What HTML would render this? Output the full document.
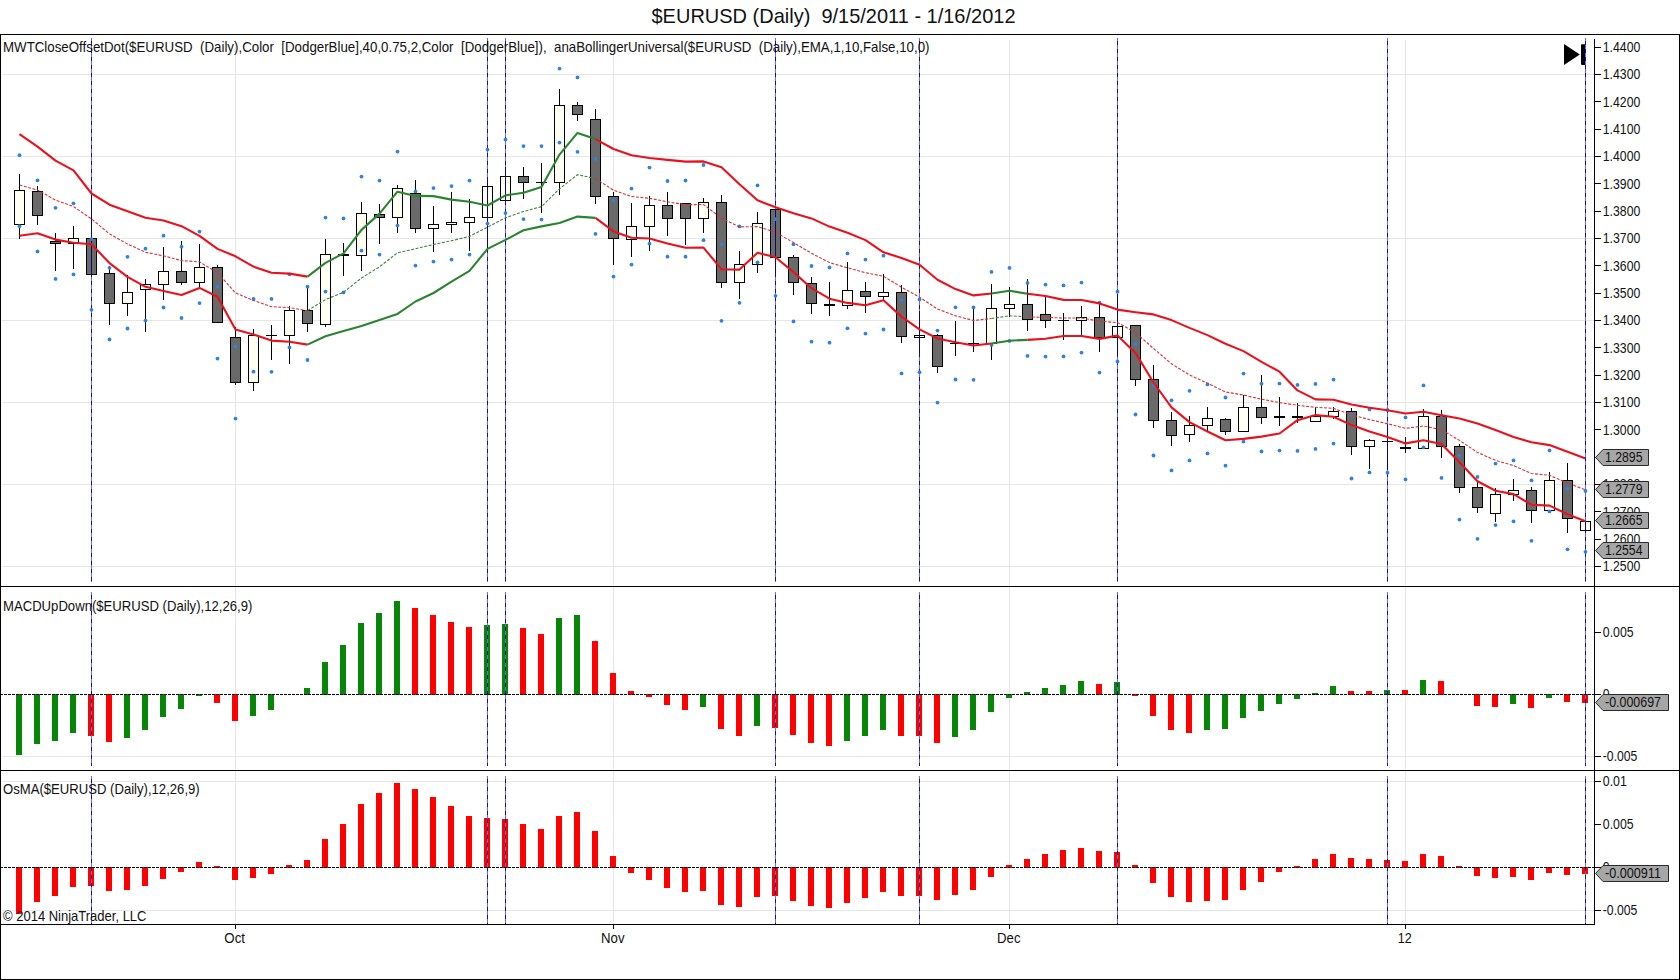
<!DOCTYPE html>
<html><head><meta charset="utf-8"><title>$EURUSD (Daily)</title>
<style>html,body{margin:0;padding:0;background:#fff}body{width:1680px;height:980px;overflow:hidden;position:relative;font-family:"Liberation Sans",sans-serif}svg{position:absolute;left:0;top:0}text{font-family:"Liberation Sans",sans-serif;fill:#111;white-space:pre}</style></head><body>
<svg width="1680" height="980" viewBox="0 0 1680 980">
<rect x="0" y="0" width="1680" height="980" fill="#fff"/>
<text x="651.5" y="23.3" font-size="20.4" textLength="364" lengthAdjust="spacingAndGlyphs" xml:space="preserve">$EURUSD (Daily)  9/15/2011 - 1/16/2012</text>
<g shape-rendering="crispEdges" fill="#e6e6e6">
<rect x="2" y="74" width="1592" height="1"/>
<rect x="2" y="156" width="1592" height="1"/>
<rect x="2" y="238" width="1592" height="1"/>
<rect x="2" y="320" width="1592" height="1"/>
<rect x="2" y="402" width="1592" height="1"/>
<rect x="2" y="484" width="1592" height="1"/>
<rect x="2" y="566" width="1592" height="1"/>
<rect x="2" y="756" width="1592" height="1"/>
<rect x="2" y="781" width="1592" height="1"/>
<rect x="2" y="910" width="1592" height="1"/>
<rect x="235" y="40" width="1" height="884"/>
<rect x="613" y="40" width="1" height="884"/>
<rect x="1009" y="40" width="1" height="884"/>
<rect x="1405" y="40" width="1" height="884"/>
</g>
<g shape-rendering="crispEdges">
<rect x="19" y="174" width="1" height="65" fill="#000"/>
<rect x="14" y="190" width="11" height="35" fill="#000"/>
<rect x="15" y="191" width="9" height="33" fill="#fffff4"/>
<rect x="37" y="186" width="1" height="39" fill="#000"/>
<rect x="32" y="191" width="11" height="25" fill="#000"/>
<rect x="33" y="192" width="9" height="23" fill="#6a6a6a"/>
<rect x="55" y="233" width="1" height="38" fill="#000"/>
<rect x="50" y="241" width="11" height="3" fill="#000"/>
<rect x="51" y="242" width="9" height="1" fill="#6a6a6a"/>
<rect x="73" y="226" width="1" height="43" fill="#000"/>
<rect x="68" y="238" width="11" height="6" fill="#000"/>
<rect x="69" y="239" width="9" height="4" fill="#fffff4"/>
<rect x="91" y="194" width="1" height="81" fill="#000"/>
<rect x="86" y="238" width="11" height="37" fill="#000"/>
<rect x="87" y="239" width="9" height="35" fill="#6a6a6a"/>
<rect x="109" y="266" width="1" height="59" fill="#000"/>
<rect x="104" y="273" width="11" height="31" fill="#000"/>
<rect x="105" y="274" width="9" height="29" fill="#6a6a6a"/>
<rect x="127" y="275" width="1" height="41" fill="#000"/>
<rect x="122" y="292" width="11" height="12" fill="#000"/>
<rect x="123" y="293" width="9" height="10" fill="#fffff4"/>
<rect x="145" y="279" width="1" height="53" fill="#000"/>
<rect x="140" y="284" width="11" height="6" fill="#000"/>
<rect x="141" y="285" width="9" height="4" fill="#fffff4"/>
<rect x="163" y="247" width="1" height="53" fill="#000"/>
<rect x="158" y="271" width="11" height="14" fill="#000"/>
<rect x="159" y="272" width="9" height="12" fill="#fffff4"/>
<rect x="181" y="241" width="1" height="44" fill="#000"/>
<rect x="176" y="271" width="11" height="12" fill="#000"/>
<rect x="177" y="272" width="9" height="10" fill="#6a6a6a"/>
<rect x="199" y="244" width="1" height="45" fill="#000"/>
<rect x="194" y="267" width="11" height="16" fill="#000"/>
<rect x="195" y="268" width="9" height="14" fill="#fffff4"/>
<rect x="217" y="265" width="1" height="58" fill="#000"/>
<rect x="212" y="267" width="11" height="56" fill="#000"/>
<rect x="213" y="268" width="9" height="54" fill="#6a6a6a"/>
<rect x="235" y="327" width="1" height="58" fill="#000"/>
<rect x="230" y="337" width="11" height="46" fill="#000"/>
<rect x="231" y="338" width="9" height="44" fill="#6a6a6a"/>
<rect x="253" y="329" width="1" height="62" fill="#000"/>
<rect x="248" y="335" width="11" height="48" fill="#000"/>
<rect x="249" y="336" width="9" height="46" fill="#fffff4"/>
<rect x="271" y="325" width="1" height="35" fill="#000"/>
<rect x="266" y="335" width="11" height="1" fill="#000"/>
<rect x="289" y="306" width="1" height="58" fill="#000"/>
<rect x="284" y="310" width="11" height="26" fill="#000"/>
<rect x="285" y="311" width="9" height="24" fill="#fffff4"/>
<rect x="307" y="288" width="1" height="44" fill="#000"/>
<rect x="302" y="310" width="11" height="14" fill="#000"/>
<rect x="303" y="311" width="9" height="12" fill="#6a6a6a"/>
<rect x="325" y="239" width="1" height="88" fill="#000"/>
<rect x="320" y="254" width="11" height="71" fill="#000"/>
<rect x="321" y="255" width="9" height="69" fill="#fffff4"/>
<rect x="343" y="243" width="1" height="33" fill="#000"/>
<rect x="338" y="254" width="11" height="2" fill="#000"/>
<rect x="361" y="202" width="1" height="69" fill="#000"/>
<rect x="356" y="213" width="11" height="43" fill="#000"/>
<rect x="357" y="214" width="9" height="41" fill="#fffff4"/>
<rect x="379" y="204" width="1" height="40" fill="#000"/>
<rect x="374" y="214" width="11" height="4" fill="#000"/>
<rect x="375" y="215" width="9" height="2" fill="#6a6a6a"/>
<rect x="397" y="185" width="1" height="48" fill="#000"/>
<rect x="392" y="188" width="11" height="30" fill="#000"/>
<rect x="393" y="189" width="9" height="28" fill="#fffff4"/>
<rect x="415" y="180" width="1" height="53" fill="#000"/>
<rect x="410" y="193" width="11" height="36" fill="#000"/>
<rect x="411" y="194" width="9" height="34" fill="#6a6a6a"/>
<rect x="433" y="206" width="1" height="46" fill="#000"/>
<rect x="428" y="224" width="11" height="5" fill="#000"/>
<rect x="429" y="225" width="9" height="3" fill="#fffff4"/>
<rect x="451" y="192" width="1" height="41" fill="#000"/>
<rect x="446" y="222" width="11" height="3" fill="#000"/>
<rect x="447" y="223" width="9" height="1" fill="#fffff4"/>
<rect x="469" y="199" width="1" height="52" fill="#000"/>
<rect x="464" y="217" width="11" height="6" fill="#000"/>
<rect x="465" y="218" width="9" height="4" fill="#fffff4"/>
<rect x="487" y="181" width="1" height="68" fill="#000"/>
<rect x="482" y="186" width="11" height="32" fill="#000"/>
<rect x="483" y="187" width="9" height="30" fill="#fffff4"/>
<rect x="505" y="167" width="1" height="34" fill="#000"/>
<rect x="500" y="176" width="11" height="25" fill="#000"/>
<rect x="501" y="177" width="9" height="23" fill="#fffff4"/>
<rect x="523" y="167" width="1" height="32" fill="#000"/>
<rect x="518" y="176" width="11" height="7" fill="#000"/>
<rect x="519" y="177" width="9" height="5" fill="#6a6a6a"/>
<rect x="541" y="163" width="1" height="50" fill="#000"/>
<rect x="536" y="182" width="11" height="1" fill="#000"/>
<rect x="559" y="89" width="1" height="106" fill="#000"/>
<rect x="554" y="105" width="11" height="78" fill="#000"/>
<rect x="555" y="106" width="9" height="76" fill="#fffff4"/>
<rect x="577" y="102" width="1" height="19" fill="#000"/>
<rect x="572" y="105" width="11" height="10" fill="#000"/>
<rect x="573" y="106" width="9" height="8" fill="#6a6a6a"/>
<rect x="595" y="109" width="1" height="95" fill="#000"/>
<rect x="590" y="119" width="11" height="78" fill="#000"/>
<rect x="591" y="120" width="9" height="76" fill="#6a6a6a"/>
<rect x="613" y="192" width="1" height="73" fill="#000"/>
<rect x="608" y="196" width="11" height="43" fill="#000"/>
<rect x="609" y="197" width="9" height="41" fill="#6a6a6a"/>
<rect x="631" y="203" width="1" height="54" fill="#000"/>
<rect x="626" y="226" width="11" height="14" fill="#000"/>
<rect x="627" y="227" width="9" height="12" fill="#fffff4"/>
<rect x="649" y="196" width="1" height="55" fill="#000"/>
<rect x="644" y="205" width="11" height="22" fill="#000"/>
<rect x="645" y="206" width="9" height="20" fill="#fffff4"/>
<rect x="667" y="192" width="1" height="44" fill="#000"/>
<rect x="662" y="205" width="11" height="14" fill="#000"/>
<rect x="663" y="206" width="9" height="12" fill="#6a6a6a"/>
<rect x="685" y="203" width="1" height="42" fill="#000"/>
<rect x="680" y="203" width="11" height="16" fill="#000"/>
<rect x="681" y="204" width="9" height="14" fill="#6a6a6a"/>
<rect x="703" y="198" width="1" height="35" fill="#000"/>
<rect x="698" y="202" width="11" height="17" fill="#000"/>
<rect x="699" y="203" width="9" height="15" fill="#fffff4"/>
<rect x="721" y="195" width="1" height="93" fill="#000"/>
<rect x="716" y="202" width="11" height="81" fill="#000"/>
<rect x="717" y="203" width="9" height="79" fill="#6a6a6a"/>
<rect x="739" y="251" width="1" height="48" fill="#000"/>
<rect x="734" y="264" width="11" height="19" fill="#000"/>
<rect x="735" y="265" width="9" height="17" fill="#fffff4"/>
<rect x="757" y="212" width="1" height="61" fill="#000"/>
<rect x="752" y="223" width="11" height="42" fill="#000"/>
<rect x="753" y="224" width="9" height="40" fill="#fffff4"/>
<rect x="775" y="209" width="1" height="65" fill="#000"/>
<rect x="770" y="209" width="11" height="49" fill="#000"/>
<rect x="771" y="210" width="9" height="47" fill="#6a6a6a"/>
<rect x="793" y="255" width="1" height="40" fill="#000"/>
<rect x="788" y="257" width="11" height="26" fill="#000"/>
<rect x="789" y="258" width="9" height="24" fill="#6a6a6a"/>
<rect x="811" y="277" width="1" height="37" fill="#000"/>
<rect x="806" y="283" width="11" height="21" fill="#000"/>
<rect x="807" y="284" width="9" height="19" fill="#6a6a6a"/>
<rect x="829" y="282" width="1" height="34" fill="#000"/>
<rect x="824" y="304" width="11" height="2" fill="#000"/>
<rect x="847" y="262" width="1" height="47" fill="#000"/>
<rect x="842" y="290" width="11" height="16" fill="#000"/>
<rect x="843" y="291" width="9" height="14" fill="#fffff4"/>
<rect x="865" y="282" width="1" height="31" fill="#000"/>
<rect x="860" y="291" width="11" height="6" fill="#000"/>
<rect x="861" y="292" width="9" height="4" fill="#6a6a6a"/>
<rect x="883" y="274" width="1" height="27" fill="#000"/>
<rect x="878" y="292" width="11" height="5" fill="#000"/>
<rect x="879" y="293" width="9" height="3" fill="#fffff4"/>
<rect x="901" y="285" width="1" height="58" fill="#000"/>
<rect x="896" y="292" width="11" height="45" fill="#000"/>
<rect x="897" y="293" width="9" height="43" fill="#6a6a6a"/>
<rect x="919" y="311" width="1" height="42" fill="#000"/>
<rect x="914" y="335" width="11" height="3" fill="#000"/>
<rect x="915" y="336" width="9" height="1" fill="#fffff4"/>
<rect x="937" y="334" width="1" height="39" fill="#000"/>
<rect x="932" y="335" width="11" height="32" fill="#000"/>
<rect x="933" y="336" width="9" height="30" fill="#6a6a6a"/>
<rect x="955" y="321" width="1" height="35" fill="#000"/>
<rect x="950" y="343" width="11" height="1" fill="#000"/>
<rect x="973" y="308" width="1" height="44" fill="#000"/>
<rect x="968" y="343" width="11" height="1" fill="#000"/>
<rect x="991" y="284" width="1" height="76" fill="#000"/>
<rect x="986" y="308" width="11" height="36" fill="#000"/>
<rect x="987" y="309" width="9" height="34" fill="#fffff4"/>
<rect x="1009" y="287" width="1" height="30" fill="#000"/>
<rect x="1004" y="304" width="11" height="5" fill="#000"/>
<rect x="1005" y="305" width="9" height="3" fill="#fffff4"/>
<rect x="1027" y="279" width="1" height="52" fill="#000"/>
<rect x="1022" y="304" width="11" height="16" fill="#000"/>
<rect x="1023" y="305" width="9" height="14" fill="#6a6a6a"/>
<rect x="1045" y="297" width="1" height="31" fill="#000"/>
<rect x="1040" y="314" width="11" height="7" fill="#000"/>
<rect x="1041" y="315" width="9" height="5" fill="#6a6a6a"/>
<rect x="1063" y="313" width="1" height="27" fill="#000"/>
<rect x="1058" y="320" width="11" height="1" fill="#000"/>
<rect x="1081" y="306" width="1" height="30" fill="#000"/>
<rect x="1076" y="317" width="11" height="4" fill="#000"/>
<rect x="1077" y="318" width="9" height="2" fill="#fffff4"/>
<rect x="1099" y="303" width="1" height="49" fill="#000"/>
<rect x="1094" y="317" width="11" height="21" fill="#000"/>
<rect x="1095" y="318" width="9" height="19" fill="#6a6a6a"/>
<rect x="1117" y="294" width="1" height="60" fill="#000"/>
<rect x="1112" y="326" width="11" height="12" fill="#000"/>
<rect x="1113" y="327" width="9" height="10" fill="#fffff4"/>
<rect x="1135" y="325" width="1" height="61" fill="#000"/>
<rect x="1130" y="325" width="11" height="55" fill="#000"/>
<rect x="1131" y="326" width="9" height="53" fill="#6a6a6a"/>
<rect x="1153" y="365" width="1" height="63" fill="#000"/>
<rect x="1148" y="379" width="11" height="42" fill="#000"/>
<rect x="1149" y="380" width="9" height="40" fill="#6a6a6a"/>
<rect x="1171" y="412" width="1" height="34" fill="#000"/>
<rect x="1166" y="420" width="11" height="16" fill="#000"/>
<rect x="1167" y="421" width="9" height="14" fill="#6a6a6a"/>
<rect x="1189" y="416" width="1" height="26" fill="#000"/>
<rect x="1184" y="425" width="11" height="10" fill="#000"/>
<rect x="1185" y="426" width="9" height="8" fill="#fffff4"/>
<rect x="1207" y="407" width="1" height="24" fill="#000"/>
<rect x="1202" y="418" width="11" height="8" fill="#000"/>
<rect x="1203" y="419" width="9" height="6" fill="#fffff4"/>
<rect x="1225" y="418" width="1" height="17" fill="#000"/>
<rect x="1220" y="419" width="11" height="13" fill="#000"/>
<rect x="1221" y="420" width="9" height="11" fill="#6a6a6a"/>
<rect x="1243" y="395" width="1" height="37" fill="#000"/>
<rect x="1238" y="407" width="11" height="25" fill="#000"/>
<rect x="1239" y="408" width="9" height="23" fill="#fffff4"/>
<rect x="1261" y="375" width="1" height="49" fill="#000"/>
<rect x="1256" y="407" width="11" height="11" fill="#000"/>
<rect x="1257" y="408" width="9" height="9" fill="#6a6a6a"/>
<rect x="1279" y="397" width="1" height="29" fill="#000"/>
<rect x="1274" y="416" width="11" height="2" fill="#000"/>
<rect x="1297" y="403" width="1" height="20" fill="#000"/>
<rect x="1292" y="416" width="11" height="2" fill="#000"/>
<rect x="1315" y="407" width="1" height="15" fill="#000"/>
<rect x="1310" y="416" width="11" height="6" fill="#000"/>
<rect x="1311" y="417" width="9" height="4" fill="#fffff4"/>
<rect x="1333" y="407" width="1" height="12" fill="#000"/>
<rect x="1328" y="411" width="11" height="6" fill="#000"/>
<rect x="1329" y="412" width="9" height="4" fill="#fffff4"/>
<rect x="1351" y="408" width="1" height="47" fill="#000"/>
<rect x="1346" y="411" width="11" height="36" fill="#000"/>
<rect x="1347" y="412" width="9" height="34" fill="#6a6a6a"/>
<rect x="1369" y="439" width="1" height="30" fill="#000"/>
<rect x="1364" y="440" width="11" height="7" fill="#000"/>
<rect x="1365" y="441" width="9" height="5" fill="#fffff4"/>
<rect x="1387" y="424" width="1" height="46" fill="#000"/>
<rect x="1382" y="441" width="11" height="1" fill="#000"/>
<rect x="1405" y="437" width="1" height="16" fill="#000"/>
<rect x="1400" y="447" width="11" height="2" fill="#000"/>
<rect x="1423" y="409" width="1" height="40" fill="#000"/>
<rect x="1418" y="416" width="11" height="33" fill="#000"/>
<rect x="1419" y="417" width="9" height="31" fill="#fffff4"/>
<rect x="1441" y="410" width="1" height="48" fill="#000"/>
<rect x="1436" y="416" width="11" height="31" fill="#000"/>
<rect x="1437" y="417" width="9" height="29" fill="#6a6a6a"/>
<rect x="1459" y="444" width="1" height="49" fill="#000"/>
<rect x="1454" y="446" width="11" height="42" fill="#000"/>
<rect x="1455" y="447" width="9" height="40" fill="#6a6a6a"/>
<rect x="1477" y="481" width="1" height="32" fill="#000"/>
<rect x="1472" y="487" width="11" height="21" fill="#000"/>
<rect x="1473" y="488" width="9" height="19" fill="#6a6a6a"/>
<rect x="1495" y="488" width="1" height="34" fill="#000"/>
<rect x="1490" y="494" width="11" height="20" fill="#000"/>
<rect x="1491" y="495" width="9" height="18" fill="#fffff4"/>
<rect x="1513" y="479" width="1" height="22" fill="#000"/>
<rect x="1508" y="490" width="11" height="5" fill="#000"/>
<rect x="1509" y="491" width="9" height="3" fill="#fffff4"/>
<rect x="1531" y="487" width="1" height="36" fill="#000"/>
<rect x="1526" y="490" width="11" height="21" fill="#000"/>
<rect x="1527" y="491" width="9" height="19" fill="#6a6a6a"/>
<rect x="1549" y="472" width="1" height="39" fill="#000"/>
<rect x="1544" y="480" width="11" height="31" fill="#000"/>
<rect x="1545" y="481" width="9" height="29" fill="#fffff4"/>
<rect x="1567" y="463" width="1" height="70" fill="#000"/>
<rect x="1562" y="480" width="11" height="39" fill="#000"/>
<rect x="1563" y="481" width="9" height="37" fill="#6a6a6a"/>
<rect x="1585" y="521" width="1" height="10" fill="#000"/>
<rect x="1580" y="521" width="11" height="10" fill="#000"/>
<rect x="1581" y="522" width="9" height="8" fill="#fffff4"/>
</g>
<polygon points="1564,44 1564,65 1579.8,54.5" fill="#000"/>
<rect x="1581" y="44.3" width="5" height="20.6" rx="0.8" fill="#000"/>
<g shape-rendering="crispEdges">
<rect x="91" y="38" width="1" height="544" fill="#6868f2"/>
<line x1="91.5" y1="41" x2="91.5" y2="582" stroke="#121288" stroke-width="1" stroke-dasharray="4 4"/>
<rect x="91" y="194" width="1" height="81" fill="#0a0a66"/>
<rect x="487" y="38" width="1" height="544" fill="#6868f2"/>
<line x1="487.5" y1="41" x2="487.5" y2="582" stroke="#121288" stroke-width="1" stroke-dasharray="4 4"/>
<rect x="487" y="181" width="1" height="68" fill="#0a0a66"/>
<rect x="505" y="38" width="1" height="544" fill="#6868f2"/>
<line x1="505.5" y1="41" x2="505.5" y2="582" stroke="#121288" stroke-width="1" stroke-dasharray="4 4"/>
<rect x="505" y="167" width="1" height="34" fill="#0a0a66"/>
<rect x="775" y="38" width="1" height="544" fill="#6868f2"/>
<line x1="775.5" y1="41" x2="775.5" y2="582" stroke="#121288" stroke-width="1" stroke-dasharray="4 4"/>
<rect x="775" y="209" width="1" height="65" fill="#0a0a66"/>
<rect x="919" y="38" width="1" height="544" fill="#6868f2"/>
<line x1="919.5" y1="41" x2="919.5" y2="582" stroke="#121288" stroke-width="1" stroke-dasharray="4 4"/>
<rect x="919" y="311" width="1" height="42" fill="#0a0a66"/>
<rect x="1117" y="38" width="1" height="544" fill="#6868f2"/>
<line x1="1117.5" y1="41" x2="1117.5" y2="582" stroke="#121288" stroke-width="1" stroke-dasharray="4 4"/>
<rect x="1117" y="294" width="1" height="60" fill="#0a0a66"/>
<rect x="1387" y="38" width="1" height="544" fill="#6868f2"/>
<line x1="1387.5" y1="41" x2="1387.5" y2="582" stroke="#121288" stroke-width="1" stroke-dasharray="4 4"/>
<rect x="1387" y="424" width="1" height="46" fill="#0a0a66"/>
<rect x="1585" y="38" width="1" height="544" fill="#6868f2"/>
<line x1="1585.5" y1="41" x2="1585.5" y2="582" stroke="#121288" stroke-width="1" stroke-dasharray="4 4"/>
<rect x="1585" y="521" width="1" height="10" fill="#0a0a66"/>
</g>
<g fill="#2f82de">
<circle cx="19.5" cy="155.2" r="1.9"/>
<circle cx="19.5" cy="226.2" r="1.9"/>
<circle cx="37.5" cy="180.3" r="1.9"/>
<circle cx="37.5" cy="251.4" r="1.9"/>
<circle cx="55.5" cy="207.8" r="1.9"/>
<circle cx="55.5" cy="278.9" r="1.9"/>
<circle cx="73.5" cy="203.3" r="1.9"/>
<circle cx="73.5" cy="274.4" r="1.9"/>
<circle cx="91.5" cy="239.1" r="1.9"/>
<circle cx="91.5" cy="309.8" r="1.9"/>
<circle cx="109.5" cy="267.8" r="1.9"/>
<circle cx="109.5" cy="339.5" r="1.9"/>
<circle cx="127.5" cy="256.8" r="1.9"/>
<circle cx="127.5" cy="328.5" r="1.9"/>
<circle cx="145.5" cy="248.7" r="1.9"/>
<circle cx="145.5" cy="320.6" r="1.9"/>
<circle cx="163.5" cy="235.7" r="1.9"/>
<circle cx="163.5" cy="307.5" r="1.9"/>
<circle cx="181.5" cy="246.7" r="1.9"/>
<circle cx="181.5" cy="318.0" r="1.9"/>
<circle cx="199.5" cy="231.6" r="1.9"/>
<circle cx="199.5" cy="303.1" r="1.9"/>
<circle cx="217.5" cy="286.6" r="1.9"/>
<circle cx="217.5" cy="358.6" r="1.9"/>
<circle cx="235.5" cy="346.6" r="1.9"/>
<circle cx="235.5" cy="418.6" r="1.9"/>
<circle cx="253.5" cy="299.0" r="1.9"/>
<circle cx="253.5" cy="371.7" r="1.9"/>
<circle cx="271.5" cy="298.9" r="1.9"/>
<circle cx="271.5" cy="371.8" r="1.9"/>
<circle cx="289.5" cy="274.3" r="1.9"/>
<circle cx="289.5" cy="347.4" r="1.9"/>
<circle cx="307.5" cy="286.7" r="1.9"/>
<circle cx="307.5" cy="360.0" r="1.9"/>
<circle cx="325.5" cy="217.6" r="1.9"/>
<circle cx="325.5" cy="291.6" r="1.9"/>
<circle cx="343.5" cy="218.4" r="1.9"/>
<circle cx="343.5" cy="292.4" r="1.9"/>
<circle cx="361.5" cy="176.6" r="1.9"/>
<circle cx="361.5" cy="250.6" r="1.9"/>
<circle cx="379.5" cy="180.6" r="1.9"/>
<circle cx="379.5" cy="254.6" r="1.9"/>
<circle cx="397.5" cy="151.6" r="1.9"/>
<circle cx="397.5" cy="225.6" r="1.9"/>
<circle cx="415.5" cy="191.4" r="1.9"/>
<circle cx="415.5" cy="265.6" r="1.9"/>
<circle cx="433.5" cy="188.1" r="1.9"/>
<circle cx="433.5" cy="261.6" r="1.9"/>
<circle cx="451.5" cy="186.1" r="1.9"/>
<circle cx="451.5" cy="259.6" r="1.9"/>
<circle cx="469.5" cy="180.6" r="1.9"/>
<circle cx="469.5" cy="254.6" r="1.9"/>
<circle cx="487.5" cy="149.6" r="1.9"/>
<circle cx="487.5" cy="223.6" r="1.9"/>
<circle cx="505.5" cy="139.6" r="1.9"/>
<circle cx="505.5" cy="213.1" r="1.9"/>
<circle cx="523.5" cy="146.1" r="1.9"/>
<circle cx="523.5" cy="219.1" r="1.9"/>
<circle cx="541.5" cy="146.1" r="1.9"/>
<circle cx="541.5" cy="219.6" r="1.9"/>
<circle cx="559.5" cy="68.6" r="1.9"/>
<circle cx="559.5" cy="142.6" r="1.9"/>
<circle cx="577.5" cy="77.4" r="1.9"/>
<circle cx="577.5" cy="151.8" r="1.9"/>
<circle cx="595.5" cy="158.8" r="1.9"/>
<circle cx="595.5" cy="233.9" r="1.9"/>
<circle cx="613.5" cy="200.7" r="1.9"/>
<circle cx="613.5" cy="276.6" r="1.9"/>
<circle cx="631.5" cy="188.6" r="1.9"/>
<circle cx="631.5" cy="264.6" r="1.9"/>
<circle cx="649.5" cy="167.6" r="1.9"/>
<circle cx="649.5" cy="243.7" r="1.9"/>
<circle cx="667.5" cy="181.0" r="1.9"/>
<circle cx="667.5" cy="256.7" r="1.9"/>
<circle cx="685.5" cy="180.5" r="1.9"/>
<circle cx="685.5" cy="256.7" r="1.9"/>
<circle cx="703.5" cy="165.0" r="1.9"/>
<circle cx="703.5" cy="240.2" r="1.9"/>
<circle cx="721.5" cy="244.2" r="1.9"/>
<circle cx="721.5" cy="320.8" r="1.9"/>
<circle cx="739.5" cy="226.4" r="1.9"/>
<circle cx="739.5" cy="302.8" r="1.9"/>
<circle cx="757.5" cy="185.4" r="1.9"/>
<circle cx="757.5" cy="262.3" r="1.9"/>
<circle cx="775.5" cy="219.2" r="1.9"/>
<circle cx="775.5" cy="295.8" r="1.9"/>
<circle cx="793.5" cy="244.3" r="1.9"/>
<circle cx="793.5" cy="321.4" r="1.9"/>
<circle cx="811.5" cy="266.0" r="1.9"/>
<circle cx="811.5" cy="341.7" r="1.9"/>
<circle cx="829.5" cy="267.5" r="1.9"/>
<circle cx="829.5" cy="342.7" r="1.9"/>
<circle cx="847.5" cy="253.4" r="1.9"/>
<circle cx="847.5" cy="328.3" r="1.9"/>
<circle cx="865.5" cy="259.6" r="1.9"/>
<circle cx="865.5" cy="333.6" r="1.9"/>
<circle cx="883.5" cy="255.7" r="1.9"/>
<circle cx="883.5" cy="329.5" r="1.9"/>
<circle cx="901.5" cy="299.9" r="1.9"/>
<circle cx="901.5" cy="373.4" r="1.9"/>
<circle cx="919.5" cy="299.5" r="1.9"/>
<circle cx="919.5" cy="372.2" r="1.9"/>
<circle cx="937.5" cy="330.6" r="1.9"/>
<circle cx="937.5" cy="402.6" r="1.9"/>
<circle cx="955.5" cy="307.3" r="1.9"/>
<circle cx="955.5" cy="379.5" r="1.9"/>
<circle cx="973.5" cy="307.4" r="1.9"/>
<circle cx="973.5" cy="379.8" r="1.9"/>
<circle cx="991.5" cy="271.9" r="1.9"/>
<circle cx="991.5" cy="344.9" r="1.9"/>
<circle cx="1009.5" cy="267.9" r="1.9"/>
<circle cx="1009.5" cy="340.9" r="1.9"/>
<circle cx="1027.5" cy="282.9" r="1.9"/>
<circle cx="1027.5" cy="355.9" r="1.9"/>
<circle cx="1045.5" cy="284.6" r="1.9"/>
<circle cx="1045.5" cy="356.6" r="1.9"/>
<circle cx="1063.5" cy="285.4" r="1.9"/>
<circle cx="1063.5" cy="356.4" r="1.9"/>
<circle cx="1081.5" cy="282.6" r="1.9"/>
<circle cx="1081.5" cy="352.6" r="1.9"/>
<circle cx="1099.5" cy="302.6" r="1.9"/>
<circle cx="1099.5" cy="372.6" r="1.9"/>
<circle cx="1117.5" cy="291.7" r="1.9"/>
<circle cx="1117.5" cy="361.5" r="1.9"/>
<circle cx="1135.5" cy="344.2" r="1.9"/>
<circle cx="1135.5" cy="414.5" r="1.9"/>
<circle cx="1153.5" cy="385.7" r="1.9"/>
<circle cx="1153.5" cy="455.5" r="1.9"/>
<circle cx="1171.5" cy="400.3" r="1.9"/>
<circle cx="1171.5" cy="470.4" r="1.9"/>
<circle cx="1189.5" cy="390.8" r="1.9"/>
<circle cx="1189.5" cy="460.4" r="1.9"/>
<circle cx="1207.5" cy="384.4" r="1.9"/>
<circle cx="1207.5" cy="453.4" r="1.9"/>
<circle cx="1225.5" cy="397.5" r="1.9"/>
<circle cx="1225.5" cy="465.7" r="1.9"/>
<circle cx="1243.5" cy="373.6" r="1.9"/>
<circle cx="1243.5" cy="441.6" r="1.9"/>
<circle cx="1261.5" cy="383.7" r="1.9"/>
<circle cx="1261.5" cy="451.5" r="1.9"/>
<circle cx="1279.5" cy="383.6" r="1.9"/>
<circle cx="1279.5" cy="450.6" r="1.9"/>
<circle cx="1297.5" cy="384.9" r="1.9"/>
<circle cx="1297.5" cy="450.9" r="1.9"/>
<circle cx="1315.5" cy="383.9" r="1.9"/>
<circle cx="1315.5" cy="448.9" r="1.9"/>
<circle cx="1333.5" cy="379.6" r="1.9"/>
<circle cx="1333.5" cy="443.6" r="1.9"/>
<circle cx="1351.5" cy="414.7" r="1.9"/>
<circle cx="1351.5" cy="478.5" r="1.9"/>
<circle cx="1369.5" cy="409.4" r="1.9"/>
<circle cx="1369.5" cy="472.4" r="1.9"/>
<circle cx="1387.5" cy="410.0" r="1.9"/>
<circle cx="1387.5" cy="472.7" r="1.9"/>
<circle cx="1405.5" cy="417.4" r="1.9"/>
<circle cx="1405.5" cy="479.4" r="1.9"/>
<circle cx="1423.5" cy="385.4" r="1.9"/>
<circle cx="1423.5" cy="447.3" r="1.9"/>
<circle cx="1441.5" cy="415.3" r="1.9"/>
<circle cx="1441.5" cy="477.9" r="1.9"/>
<circle cx="1459.5" cy="455.6" r="1.9"/>
<circle cx="1459.5" cy="519.6" r="1.9"/>
<circle cx="1477.5" cy="476.9" r="1.9"/>
<circle cx="1477.5" cy="538.8" r="1.9"/>
<circle cx="1495.5" cy="463.6" r="1.9"/>
<circle cx="1495.5" cy="525.1" r="1.9"/>
<circle cx="1513.5" cy="460.4" r="1.9"/>
<circle cx="1513.5" cy="521.3" r="1.9"/>
<circle cx="1531.5" cy="480.4" r="1.9"/>
<circle cx="1531.5" cy="540.8" r="1.9"/>
<circle cx="1549.5" cy="450.4" r="1.9"/>
<circle cx="1549.5" cy="511.4" r="1.9"/>
<circle cx="1567.5" cy="488.4" r="1.9"/>
<circle cx="1567.5" cy="549.3" r="1.9"/>
<circle cx="1585.5" cy="490.9" r="1.9"/>
<circle cx="1585.5" cy="551.8" r="1.9"/>
</g>
<polyline points="19.5,185.0 37.5,190.0 55.5,200.1 73.5,206.6 91.5,218.9 109.5,233.9 127.5,244.0 145.5,252.3 163.5,255.8 181.5,260.6 199.5,261.9 217.5,272.8 235.5,292.9 253.5,300.5 271.5,306.7 289.5,307.7 307.5,310.6" fill="none" stroke="#d2343a" stroke-width="1.1" stroke-dasharray="3 1.5" />
<polyline points="307.5,310.6 325.5,299.6 343.5,292.3 361.5,278.0 379.5,266.8 397.5,252.8 415.5,248.7 433.5,244.5 451.5,240.7 469.5,236.4 487.5,227.2 505.5,217.7 523.5,211.5 541.5,206.6 559.5,188.8 577.5,174.7 595.5,178.5" fill="none" stroke="#3f843f" stroke-width="1.1" stroke-dasharray="3 1.5" />
<polyline points="595.5,178.5 613.5,190.2 631.5,196.5 649.5,198.3 667.5,201.8 685.5,204.7 703.5,204.5 721.5,218.2 739.5,226.9 757.5,226.6 775.5,232.2 793.5,242.6 811.5,253.3 829.5,262.6 847.5,267.8 865.5,272.7 883.5,276.3 901.5,287.2 919.5,297.1 937.5,309.1 955.5,315.7 973.5,320.5 991.5,318.5" fill="none" stroke="#d2343a" stroke-width="1.1" stroke-dasharray="3 1.5" />
<polyline points="991.5,318.5 1009.5,315.8 1027.5,316.8" fill="none" stroke="#3f843f" stroke-width="1.1" stroke-dasharray="3 1.5" />
<polyline points="1027.5,316.8 1045.5,317.4 1063.5,318.0 1081.5,318.0 1099.5,321.2 1117.5,322.6 1135.5,332.5 1153.5,348.5 1171.5,363.8 1189.5,375.0 1207.5,383.3 1225.5,392.0 1243.5,395.0 1261.5,399.2 1279.5,402.6 1297.5,405.3 1315.5,407.3 1333.5,408.3 1351.5,414.8 1369.5,419.6 1387.5,423.7 1405.5,428.4 1423.5,426.0 1441.5,429.7 1459.5,440.4 1477.5,452.4 1495.5,460.3 1513.5,465.6 1531.5,473.5 1549.5,475.3 1567.5,483.0 1585.5,489.9" fill="none" stroke="#d2343a" stroke-width="1.1" stroke-dasharray="3 1.5" />
<polyline points="19.5,134.2 37.5,146.7 55.5,160.6 73.5,170.4 91.5,193.5 109.5,204.7 127.5,211.2 145.5,217.8 163.5,220.5 181.5,226.2 199.5,235.9 217.5,248.9 235.5,256.3 253.5,266.6 271.5,272.7 289.5,273.6 307.5,276.6" fill="none" stroke="#e8121c" stroke-width="2.1" stroke-linejoin="round"/>
<polyline points="307.5,276.6 325.5,262.9 343.5,253.4 361.5,229.9 379.5,213.6 397.5,191.7 415.5,195.9 433.5,196.1 451.5,199.6 469.5,201.8 487.5,205.5 505.5,195.4 523.5,192.8 541.5,186.9 559.5,154.6 577.5,132.9 595.5,139.1" fill="none" stroke="#2a8430" stroke-width="2.1" stroke-linejoin="round"/>
<polyline points="595.5,139.1 613.5,149.0 631.5,155.2 649.5,158.0 667.5,159.9 685.5,161.6 703.5,161.4 721.5,167.2 739.5,184.2 757.5,200.3 775.5,207.2 793.5,213.2 811.5,218.4 829.5,226.6 847.5,232.7 865.5,240.1 883.5,252.3 901.5,257.9 919.5,264.7 937.5,279.8 955.5,289.1 973.5,295.4 991.5,293.5" fill="none" stroke="#e8121c" stroke-width="2.1" stroke-linejoin="round"/>
<polyline points="991.5,293.5 1009.5,290.8 1027.5,293.7" fill="none" stroke="#2a8430" stroke-width="2.1" stroke-linejoin="round"/>
<polyline points="1027.5,293.7 1045.5,296.0 1063.5,299.9 1081.5,300.0 1099.5,303.4 1117.5,309.6 1135.5,312.2 1153.5,314.4 1171.5,320.1 1189.5,327.9 1207.5,335.1 1225.5,343.8 1243.5,351.1 1261.5,361.8 1279.5,371.7 1297.5,390.4 1315.5,399.4 1333.5,399.8 1351.5,404.5 1369.5,407.7 1387.5,410.3 1405.5,413.5 1423.5,411.7 1441.5,415.3 1459.5,418.5 1477.5,423.6 1495.5,429.9 1513.5,437.0 1531.5,442.2 1549.5,445.1 1567.5,451.8 1585.5,458.4" fill="none" stroke="#e8121c" stroke-width="2.1" stroke-linejoin="round"/>
<polyline points="19.5,235.8 37.5,233.3 55.5,239.6 73.5,242.8 91.5,244.3 109.5,263.1 127.5,276.8 145.5,286.8 163.5,291.1 181.5,295.0 199.5,287.9 217.5,296.8 235.5,329.5 253.5,334.4 271.5,340.6 289.5,341.8 307.5,344.6" fill="none" stroke="#e8121c" stroke-width="2.1" stroke-linejoin="round"/>
<polyline points="307.5,344.6 325.5,336.3 343.5,331.1 361.5,326.0 379.5,320.1 397.5,313.9 415.5,301.5 433.5,293.0 451.5,281.7 469.5,270.9 487.5,248.9 505.5,239.9 523.5,230.3 541.5,226.4 559.5,223.0 577.5,216.6 595.5,217.9" fill="none" stroke="#2a8430" stroke-width="2.1" stroke-linejoin="round"/>
<polyline points="595.5,217.9 613.5,231.4 631.5,237.8 649.5,238.5 667.5,243.6 685.5,247.7 703.5,247.6 721.5,269.3 739.5,269.6 757.5,252.8 775.5,257.3 793.5,272.1 811.5,288.2 829.5,298.7 847.5,302.9 865.5,305.3 883.5,300.2 901.5,316.6 919.5,329.4 937.5,338.5 955.5,342.3 973.5,345.5 991.5,343.5" fill="none" stroke="#e8121c" stroke-width="2.1" stroke-linejoin="round"/>
<polyline points="991.5,343.5 1009.5,340.7 1027.5,339.9" fill="none" stroke="#2a8430" stroke-width="2.1" stroke-linejoin="round"/>
<polyline points="1027.5,339.9 1045.5,338.8 1063.5,336.0 1081.5,336.0 1099.5,338.9 1117.5,335.6 1135.5,352.9 1153.5,382.5 1171.5,407.4 1189.5,422.1 1207.5,431.5 1225.5,440.3 1243.5,438.9 1261.5,436.6 1279.5,433.5 1297.5,420.2 1315.5,415.1 1333.5,416.7 1351.5,425.1 1369.5,431.5 1387.5,437.1 1405.5,443.4 1423.5,440.2 1441.5,444.0 1459.5,462.2 1477.5,481.2 1495.5,490.7 1513.5,494.1 1531.5,504.7 1549.5,505.6 1567.5,514.2 1585.5,521.3" fill="none" stroke="#e8121c" stroke-width="2.1" stroke-linejoin="round"/>
<g shape-rendering="crispEdges">
<rect x="16" y="694" width="6" height="61" fill="#078507"/>
<rect x="34" y="694" width="6" height="50" fill="#078507"/>
<rect x="52" y="694" width="6" height="47" fill="#078507"/>
<rect x="70" y="694" width="6" height="39" fill="#078507"/>
<rect x="88" y="694" width="6" height="42" fill="#ff0000"/>
<rect x="106" y="694" width="6" height="48" fill="#ff0000"/>
<rect x="124" y="694" width="6" height="44" fill="#078507"/>
<rect x="142" y="694" width="6" height="36" fill="#078507"/>
<rect x="160" y="694" width="6" height="23" fill="#078507"/>
<rect x="178" y="694" width="6" height="15" fill="#078507"/>
<rect x="196" y="694" width="6" height="2" fill="#078507"/>
<rect x="214" y="694" width="6" height="9" fill="#ff0000"/>
<rect x="232" y="694" width="6" height="27" fill="#ff0000"/>
<rect x="250" y="694" width="6" height="22" fill="#078507"/>
<rect x="268" y="694" width="6" height="16" fill="#078507"/>
<rect x="304" y="688" width="6" height="7" fill="#078507"/>
<rect x="322" y="662" width="6" height="33" fill="#078507"/>
<rect x="340" y="645" width="6" height="50" fill="#078507"/>
<rect x="358" y="623" width="6" height="72" fill="#078507"/>
<rect x="376" y="613" width="6" height="82" fill="#078507"/>
<rect x="394" y="601" width="6" height="94" fill="#078507"/>
<rect x="412" y="608" width="6" height="87" fill="#ff0000"/>
<rect x="430" y="615" width="6" height="80" fill="#ff0000"/>
<rect x="448" y="622" width="6" height="73" fill="#ff0000"/>
<rect x="466" y="627" width="6" height="68" fill="#ff0000"/>
<rect x="484" y="625" width="6" height="70" fill="#078507"/>
<rect x="502" y="624" width="6" height="71" fill="#078507"/>
<rect x="520" y="628" width="6" height="67" fill="#ff0000"/>
<rect x="538" y="634" width="6" height="61" fill="#ff0000"/>
<rect x="556" y="618" width="6" height="77" fill="#078507"/>
<rect x="574" y="615" width="6" height="80" fill="#078507"/>
<rect x="592" y="641" width="6" height="54" fill="#ff0000"/>
<rect x="610" y="673" width="6" height="22" fill="#ff0000"/>
<rect x="628" y="691" width="6" height="4" fill="#ff0000"/>
<rect x="646" y="694" width="6" height="3" fill="#ff0000"/>
<rect x="664" y="694" width="6" height="11" fill="#ff0000"/>
<rect x="682" y="694" width="6" height="16" fill="#ff0000"/>
<rect x="700" y="694" width="6" height="13" fill="#078507"/>
<rect x="718" y="694" width="6" height="35" fill="#ff0000"/>
<rect x="736" y="694" width="6" height="42" fill="#ff0000"/>
<rect x="754" y="694" width="6" height="32" fill="#078507"/>
<rect x="772" y="694" width="6" height="34" fill="#ff0000"/>
<rect x="790" y="694" width="6" height="41" fill="#ff0000"/>
<rect x="808" y="694" width="6" height="49" fill="#ff0000"/>
<rect x="826" y="694" width="6" height="52" fill="#ff0000"/>
<rect x="844" y="694" width="6" height="47" fill="#078507"/>
<rect x="862" y="694" width="6" height="42" fill="#078507"/>
<rect x="880" y="694" width="6" height="36" fill="#078507"/>
<rect x="898" y="694" width="6" height="42" fill="#ff0000"/>
<rect x="916" y="694" width="6" height="42" fill="#ff0000"/>
<rect x="934" y="694" width="6" height="49" fill="#ff0000"/>
<rect x="952" y="694" width="6" height="43" fill="#078507"/>
<rect x="970" y="694" width="6" height="36" fill="#078507"/>
<rect x="988" y="694" width="6" height="18" fill="#078507"/>
<rect x="1006" y="694" width="6" height="4" fill="#078507"/>
<rect x="1024" y="692" width="6" height="3" fill="#078507"/>
<rect x="1042" y="688" width="6" height="7" fill="#078507"/>
<rect x="1060" y="685" width="6" height="10" fill="#078507"/>
<rect x="1078" y="681" width="6" height="14" fill="#078507"/>
<rect x="1096" y="684" width="6" height="11" fill="#ff0000"/>
<rect x="1114" y="682" width="6" height="13" fill="#078507"/>
<rect x="1132" y="694" width="6" height="2" fill="#ff0000"/>
<rect x="1150" y="694" width="6" height="22" fill="#ff0000"/>
<rect x="1168" y="694" width="6" height="36" fill="#ff0000"/>
<rect x="1186" y="694" width="6" height="39" fill="#ff0000"/>
<rect x="1204" y="694" width="6" height="36" fill="#078507"/>
<rect x="1222" y="694" width="6" height="35" fill="#078507"/>
<rect x="1240" y="694" width="6" height="24" fill="#078507"/>
<rect x="1258" y="694" width="6" height="17" fill="#078507"/>
<rect x="1276" y="694" width="6" height="10" fill="#078507"/>
<rect x="1294" y="694" width="6" height="5" fill="#078507"/>
<rect x="1312" y="693" width="6" height="2" fill="#078507"/>
<rect x="1330" y="686" width="6" height="9" fill="#078507"/>
<rect x="1348" y="691" width="6" height="4" fill="#ff0000"/>
<rect x="1366" y="691" width="6" height="4" fill="#ff0000"/>
<rect x="1384" y="690" width="6" height="5" fill="#078507"/>
<rect x="1402" y="690" width="6" height="5" fill="#ff0000"/>
<rect x="1420" y="680" width="6" height="15" fill="#078507"/>
<rect x="1438" y="681" width="6" height="14" fill="#ff0000"/>
<rect x="1474" y="694" width="6" height="12" fill="#ff0000"/>
<rect x="1492" y="694" width="6" height="13" fill="#ff0000"/>
<rect x="1510" y="694" width="6" height="10" fill="#078507"/>
<rect x="1528" y="694" width="6" height="14" fill="#ff0000"/>
<rect x="1546" y="694" width="6" height="4" fill="#078507"/>
<rect x="1564" y="694" width="6" height="8" fill="#ff0000"/>
<rect x="1582" y="694" width="6" height="9" fill="#ff0000"/>
<rect x="16" y="867" width="6" height="47" fill="#ff0000"/>
<rect x="34" y="867" width="6" height="35" fill="#ff0000"/>
<rect x="52" y="867" width="6" height="29" fill="#ff0000"/>
<rect x="70" y="867" width="6" height="20" fill="#ff0000"/>
<rect x="88" y="867" width="6" height="19" fill="#ff0000"/>
<rect x="106" y="867" width="6" height="24" fill="#ff0000"/>
<rect x="124" y="867" width="6" height="23" fill="#ff0000"/>
<rect x="142" y="867" width="6" height="19" fill="#ff0000"/>
<rect x="160" y="867" width="6" height="12" fill="#ff0000"/>
<rect x="178" y="867" width="6" height="5" fill="#ff0000"/>
<rect x="196" y="862" width="6" height="6" fill="#ff0000"/>
<rect x="214" y="866" width="6" height="2" fill="#ff0000"/>
<rect x="232" y="867" width="6" height="13" fill="#ff0000"/>
<rect x="250" y="867" width="6" height="11" fill="#ff0000"/>
<rect x="268" y="867" width="6" height="7" fill="#ff0000"/>
<rect x="286" y="865" width="6" height="3" fill="#ff0000"/>
<rect x="304" y="860" width="6" height="8" fill="#ff0000"/>
<rect x="322" y="839" width="6" height="29" fill="#ff0000"/>
<rect x="340" y="824" width="6" height="44" fill="#ff0000"/>
<rect x="358" y="804" width="6" height="64" fill="#ff0000"/>
<rect x="376" y="793" width="6" height="75" fill="#ff0000"/>
<rect x="394" y="783" width="6" height="85" fill="#ff0000"/>
<rect x="412" y="789" width="6" height="79" fill="#ff0000"/>
<rect x="430" y="797" width="6" height="71" fill="#ff0000"/>
<rect x="448" y="806" width="6" height="62" fill="#ff0000"/>
<rect x="466" y="816" width="6" height="52" fill="#ff0000"/>
<rect x="484" y="818" width="6" height="50" fill="#ff0000"/>
<rect x="502" y="819" width="6" height="49" fill="#ff0000"/>
<rect x="520" y="824" width="6" height="44" fill="#ff0000"/>
<rect x="538" y="829" width="6" height="39" fill="#ff0000"/>
<rect x="556" y="816" width="6" height="52" fill="#ff0000"/>
<rect x="574" y="812" width="6" height="56" fill="#ff0000"/>
<rect x="592" y="831" width="6" height="37" fill="#ff0000"/>
<rect x="610" y="856" width="6" height="12" fill="#ff0000"/>
<rect x="628" y="867" width="6" height="6" fill="#ff0000"/>
<rect x="646" y="867" width="6" height="13" fill="#ff0000"/>
<rect x="664" y="867" width="6" height="21" fill="#ff0000"/>
<rect x="682" y="867" width="6" height="25" fill="#ff0000"/>
<rect x="700" y="867" width="6" height="24" fill="#ff0000"/>
<rect x="718" y="867" width="6" height="38" fill="#ff0000"/>
<rect x="736" y="867" width="6" height="40" fill="#ff0000"/>
<rect x="754" y="867" width="6" height="30" fill="#ff0000"/>
<rect x="772" y="867" width="6" height="29" fill="#ff0000"/>
<rect x="790" y="867" width="6" height="34" fill="#ff0000"/>
<rect x="808" y="867" width="6" height="39" fill="#ff0000"/>
<rect x="826" y="867" width="6" height="41" fill="#ff0000"/>
<rect x="844" y="867" width="6" height="36" fill="#ff0000"/>
<rect x="862" y="867" width="6" height="31" fill="#ff0000"/>
<rect x="880" y="867" width="6" height="25" fill="#ff0000"/>
<rect x="898" y="867" width="6" height="29" fill="#ff0000"/>
<rect x="916" y="867" width="6" height="29" fill="#ff0000"/>
<rect x="934" y="867" width="6" height="33" fill="#ff0000"/>
<rect x="952" y="867" width="6" height="28" fill="#ff0000"/>
<rect x="970" y="867" width="6" height="23" fill="#ff0000"/>
<rect x="988" y="867" width="6" height="10" fill="#ff0000"/>
<rect x="1006" y="865" width="6" height="3" fill="#ff0000"/>
<rect x="1024" y="859" width="6" height="9" fill="#ff0000"/>
<rect x="1042" y="854" width="6" height="14" fill="#ff0000"/>
<rect x="1060" y="850" width="6" height="18" fill="#ff0000"/>
<rect x="1078" y="848" width="6" height="20" fill="#ff0000"/>
<rect x="1096" y="851" width="6" height="17" fill="#ff0000"/>
<rect x="1114" y="852" width="6" height="16" fill="#ff0000"/>
<rect x="1132" y="865" width="6" height="3" fill="#ff0000"/>
<rect x="1150" y="867" width="6" height="16" fill="#ff0000"/>
<rect x="1168" y="867" width="6" height="30" fill="#ff0000"/>
<rect x="1186" y="867" width="6" height="35" fill="#ff0000"/>
<rect x="1204" y="867" width="6" height="34" fill="#ff0000"/>
<rect x="1222" y="867" width="6" height="33" fill="#ff0000"/>
<rect x="1240" y="867" width="6" height="23" fill="#ff0000"/>
<rect x="1258" y="867" width="6" height="15" fill="#ff0000"/>
<rect x="1276" y="867" width="6" height="5" fill="#ff0000"/>
<rect x="1294" y="866" width="6" height="2" fill="#ff0000"/>
<rect x="1312" y="859" width="6" height="9" fill="#ff0000"/>
<rect x="1330" y="854" width="6" height="14" fill="#ff0000"/>
<rect x="1348" y="858" width="6" height="10" fill="#ff0000"/>
<rect x="1366" y="859" width="6" height="9" fill="#ff0000"/>
<rect x="1384" y="860" width="6" height="8" fill="#ff0000"/>
<rect x="1402" y="861" width="6" height="7" fill="#ff0000"/>
<rect x="1420" y="854" width="6" height="14" fill="#ff0000"/>
<rect x="1438" y="856" width="6" height="12" fill="#ff0000"/>
<rect x="1456" y="866" width="6" height="2" fill="#ff0000"/>
<rect x="1474" y="867" width="6" height="9" fill="#ff0000"/>
<rect x="1492" y="867" width="6" height="11" fill="#ff0000"/>
<rect x="1510" y="867" width="6" height="10" fill="#ff0000"/>
<rect x="1528" y="867" width="6" height="13" fill="#ff0000"/>
<rect x="1546" y="867" width="6" height="6" fill="#ff0000"/>
<rect x="1564" y="867" width="6" height="8" fill="#ff0000"/>
<rect x="1582" y="867" width="6" height="7" fill="#ff0000"/>
<g shape-rendering="crispEdges">
<rect x="91" y="592" width="1" height="174" fill="#6868f2"/>
<line x1="91.5" y1="595" x2="91.5" y2="766" stroke="#121288" stroke-width="1" stroke-dasharray="4 4"/>
<rect x="91" y="776" width="1" height="148" fill="#6868f2"/>
<line x1="91.5" y1="779" x2="91.5" y2="924" stroke="#121288" stroke-width="1" stroke-dasharray="4 4"/>
<rect x="487" y="592" width="1" height="174" fill="#6868f2"/>
<line x1="487.5" y1="595" x2="487.5" y2="766" stroke="#121288" stroke-width="1" stroke-dasharray="4 4"/>
<rect x="487" y="776" width="1" height="148" fill="#6868f2"/>
<line x1="487.5" y1="779" x2="487.5" y2="924" stroke="#121288" stroke-width="1" stroke-dasharray="4 4"/>
<rect x="505" y="592" width="1" height="174" fill="#6868f2"/>
<line x1="505.5" y1="595" x2="505.5" y2="766" stroke="#121288" stroke-width="1" stroke-dasharray="4 4"/>
<rect x="505" y="776" width="1" height="148" fill="#6868f2"/>
<line x1="505.5" y1="779" x2="505.5" y2="924" stroke="#121288" stroke-width="1" stroke-dasharray="4 4"/>
<rect x="775" y="592" width="1" height="174" fill="#6868f2"/>
<line x1="775.5" y1="595" x2="775.5" y2="766" stroke="#121288" stroke-width="1" stroke-dasharray="4 4"/>
<rect x="775" y="776" width="1" height="148" fill="#6868f2"/>
<line x1="775.5" y1="779" x2="775.5" y2="924" stroke="#121288" stroke-width="1" stroke-dasharray="4 4"/>
<rect x="919" y="592" width="1" height="174" fill="#6868f2"/>
<line x1="919.5" y1="595" x2="919.5" y2="766" stroke="#121288" stroke-width="1" stroke-dasharray="4 4"/>
<rect x="919" y="776" width="1" height="148" fill="#6868f2"/>
<line x1="919.5" y1="779" x2="919.5" y2="924" stroke="#121288" stroke-width="1" stroke-dasharray="4 4"/>
<rect x="1117" y="592" width="1" height="174" fill="#6868f2"/>
<line x1="1117.5" y1="595" x2="1117.5" y2="766" stroke="#121288" stroke-width="1" stroke-dasharray="4 4"/>
<rect x="1117" y="776" width="1" height="148" fill="#6868f2"/>
<line x1="1117.5" y1="779" x2="1117.5" y2="924" stroke="#121288" stroke-width="1" stroke-dasharray="4 4"/>
<rect x="1387" y="592" width="1" height="174" fill="#6868f2"/>
<line x1="1387.5" y1="595" x2="1387.5" y2="766" stroke="#121288" stroke-width="1" stroke-dasharray="4 4"/>
<rect x="1387" y="776" width="1" height="148" fill="#6868f2"/>
<line x1="1387.5" y1="779" x2="1387.5" y2="924" stroke="#121288" stroke-width="1" stroke-dasharray="4 4"/>
<rect x="1585" y="592" width="1" height="174" fill="#6868f2"/>
<line x1="1585.5" y1="595" x2="1585.5" y2="766" stroke="#121288" stroke-width="1" stroke-dasharray="4 4"/>
<rect x="1585" y="776" width="1" height="148" fill="#6868f2"/>
<line x1="1585.5" y1="779" x2="1585.5" y2="924" stroke="#121288" stroke-width="1" stroke-dasharray="4 4"/>
</g>
<line x1="0" y1="694.5" x2="1594" y2="694.5" stroke="#000" stroke-width="1" stroke-dasharray="3 1"/>
<line x1="0" y1="867.5" x2="1594" y2="867.5" stroke="#000" stroke-width="1" stroke-dasharray="3 1"/>
</g>
<g shape-rendering="crispEdges" fill="#000">
<rect x="0" y="34" width="1680" height="1"/>
<rect x="0" y="979" width="1680" height="1"/>
<rect x="0" y="34" width="1" height="946"/>
<rect x="1679" y="34" width="1" height="946"/>
<rect x="0" y="586" width="1680" height="1"/>
<rect x="0" y="770" width="1680" height="1"/>
<rect x="0" y="924" width="1595" height="1"/>
<rect x="1594" y="39" width="1" height="886"/>
<rect x="1595" y="47" width="6" height="1"/>
<rect x="1595" y="74" width="6" height="1"/>
<rect x="1595" y="101" width="6" height="1"/>
<rect x="1595" y="129" width="6" height="1"/>
<rect x="1595" y="156" width="6" height="1"/>
<rect x="1595" y="183" width="6" height="1"/>
<rect x="1595" y="211" width="6" height="1"/>
<rect x="1595" y="238" width="6" height="1"/>
<rect x="1595" y="265" width="6" height="1"/>
<rect x="1595" y="293" width="6" height="1"/>
<rect x="1595" y="320" width="6" height="1"/>
<rect x="1595" y="347" width="6" height="1"/>
<rect x="1595" y="375" width="6" height="1"/>
<rect x="1595" y="402" width="6" height="1"/>
<rect x="1595" y="429" width="6" height="1"/>
<rect x="1595" y="457" width="6" height="1"/>
<rect x="1595" y="484" width="6" height="1"/>
<rect x="1595" y="511" width="6" height="1"/>
<rect x="1595" y="539" width="6" height="1"/>
<rect x="1595" y="566" width="6" height="1"/>
<rect x="1595" y="632" width="6" height="1"/>
<rect x="1595" y="694" width="6" height="1"/>
<rect x="1595" y="756" width="6" height="1"/>
<rect x="1595" y="781" width="6" height="1"/>
<rect x="1595" y="824" width="6" height="1"/>
<rect x="1595" y="867" width="6" height="1"/>
<rect x="1595" y="910" width="6" height="1"/>
<rect x="235" y="925" width="1" height="4"/>
<rect x="613" y="925" width="1" height="4"/>
<rect x="1009" y="925" width="1" height="4"/>
<rect x="1405" y="925" width="1" height="4"/>
</g>
<g font-size="14.2">
<text x="1602.8" y="52.1" textLength="37.5" lengthAdjust="spacingAndGlyphs">1.4400</text>
<text x="1602.8" y="79.4" textLength="37.5" lengthAdjust="spacingAndGlyphs">1.4300</text>
<text x="1602.8" y="106.7" textLength="37.5" lengthAdjust="spacingAndGlyphs">1.4200</text>
<text x="1602.8" y="134.1" textLength="37.5" lengthAdjust="spacingAndGlyphs">1.4100</text>
<text x="1602.8" y="161.4" textLength="37.5" lengthAdjust="spacingAndGlyphs">1.4000</text>
<text x="1602.8" y="188.7" textLength="37.5" lengthAdjust="spacingAndGlyphs">1.3900</text>
<text x="1602.8" y="216.1" textLength="37.5" lengthAdjust="spacingAndGlyphs">1.3800</text>
<text x="1602.8" y="243.4" textLength="37.5" lengthAdjust="spacingAndGlyphs">1.3700</text>
<text x="1602.8" y="270.7" textLength="37.5" lengthAdjust="spacingAndGlyphs">1.3600</text>
<text x="1602.8" y="298.1" textLength="37.5" lengthAdjust="spacingAndGlyphs">1.3500</text>
<text x="1602.8" y="325.4" textLength="37.5" lengthAdjust="spacingAndGlyphs">1.3400</text>
<text x="1602.8" y="352.7" textLength="37.5" lengthAdjust="spacingAndGlyphs">1.3300</text>
<text x="1602.8" y="380.1" textLength="37.5" lengthAdjust="spacingAndGlyphs">1.3200</text>
<text x="1602.8" y="407.4" textLength="37.5" lengthAdjust="spacingAndGlyphs">1.3100</text>
<text x="1602.8" y="434.7" textLength="37.5" lengthAdjust="spacingAndGlyphs">1.3000</text>
<text x="1602.8" y="462.1" textLength="37.5" lengthAdjust="spacingAndGlyphs">1.2900</text>
<text x="1602.8" y="489.4" textLength="37.5" lengthAdjust="spacingAndGlyphs">1.2800</text>
<text x="1602.8" y="516.7" textLength="37.5" lengthAdjust="spacingAndGlyphs">1.2700</text>
<text x="1602.8" y="544.1" textLength="37.5" lengthAdjust="spacingAndGlyphs">1.2600</text>
<text x="1602.8" y="571.4" textLength="37.5" lengthAdjust="spacingAndGlyphs">1.2500</text>
<text x="1602.8" y="637.4" textLength="30.8" lengthAdjust="spacingAndGlyphs">0.005</text>
<text x="1602.8" y="699.4" textLength="6.8" lengthAdjust="spacingAndGlyphs">0</text>
<text x="1602.8" y="761.4" textLength="34.6" lengthAdjust="spacingAndGlyphs">-0.005</text>
<text x="1602.8" y="786.4" textLength="24.1" lengthAdjust="spacingAndGlyphs">0.01</text>
<text x="1602.8" y="829.4" textLength="30.8" lengthAdjust="spacingAndGlyphs">0.005</text>
<text x="1602.8" y="872.4" textLength="6.8" lengthAdjust="spacingAndGlyphs">0</text>
<text x="1602.8" y="915.4" textLength="34.6" lengthAdjust="spacingAndGlyphs">-0.005</text>
<text x="224.3" y="943" textLength="20.7" lengthAdjust="spacingAndGlyphs">Oct</text>
<text x="601.0" y="943" textLength="23.5" lengthAdjust="spacingAndGlyphs">Nov</text>
<text x="997.0" y="943" textLength="23.5" lengthAdjust="spacingAndGlyphs">Dec</text>
<text x="1397.7" y="943" textLength="14" lengthAdjust="spacingAndGlyphs">12</text>
</g>
<polygon points="1595.5,457.5 1603,449.5 1648.5,449.5 1648.5,465.5 1603,465.5" fill="#a6a6a6" stroke="#2a2a2a" stroke-width="1"/>
<text x="1605.0" y="462.0" font-size="14.2" textLength="37.5" lengthAdjust="spacingAndGlyphs">1.2895</text>
<polygon points="1595.5,489.5 1603,481.5 1648.5,481.5 1648.5,497.5 1603,497.5" fill="#a6a6a6" stroke="#2a2a2a" stroke-width="1"/>
<text x="1605.0" y="494.0" font-size="14.2" textLength="37.5" lengthAdjust="spacingAndGlyphs">1.2779</text>
<polygon points="1595.5,520.5 1603,512.5 1648.5,512.5 1648.5,528.5 1603,528.5" fill="#a6a6a6" stroke="#2a2a2a" stroke-width="1"/>
<text x="1605.0" y="525.0" font-size="14.2" textLength="37.5" lengthAdjust="spacingAndGlyphs">1.2665</text>
<polygon points="1595.5,550.5 1603,542.5 1648.5,542.5 1648.5,558.5 1603,558.5" fill="#a6a6a6" stroke="#2a2a2a" stroke-width="1"/>
<text x="1605.0" y="555.0" font-size="14.2" textLength="37.5" lengthAdjust="spacingAndGlyphs">1.2554</text>
<polygon points="1595.5,702.5 1603,694.5 1668.5,694.5 1668.5,710.5 1603,710.5" fill="#a6a6a6" stroke="#2a2a2a" stroke-width="1"/>
<text x="1605.0" y="707.0" font-size="14.2" textLength="56" lengthAdjust="spacingAndGlyphs">-0.000697</text>
<polygon points="1595.5,873.5 1603,865.5 1668.5,865.5 1668.5,881.5 1603,881.5" fill="#a6a6a6" stroke="#2a2a2a" stroke-width="1"/>
<text x="1605.0" y="878.0" font-size="14.2" textLength="56" lengthAdjust="spacingAndGlyphs">-0.000911</text>
<g font-size="14.2">
<text x="3" y="51.7" textLength="926.5" lengthAdjust="spacingAndGlyphs" xml:space="preserve">MWTCloseOffsetDot($EURUSD  (Daily),Color  [DodgerBlue],40,0.75,2,Color  [DodgerBlue]),  anaBollingerUniversal($EURUSD  (Daily),EMA,1,10,False,10,0)</text>
<text x="3" y="610.6" textLength="249.3" lengthAdjust="spacingAndGlyphs" xml:space="preserve">MACDUpDown($EURUSD (Daily),12,26,9)</text>
<text x="3" y="794" textLength="196.7" lengthAdjust="spacingAndGlyphs" xml:space="preserve">OsMA($EURUSD (Daily),12,26,9)</text>
<text x="3" y="920.6" textLength="143.5" lengthAdjust="spacingAndGlyphs" xml:space="preserve">© 2014 NinjaTrader, LLC</text>
</g>
</svg></body></html>
